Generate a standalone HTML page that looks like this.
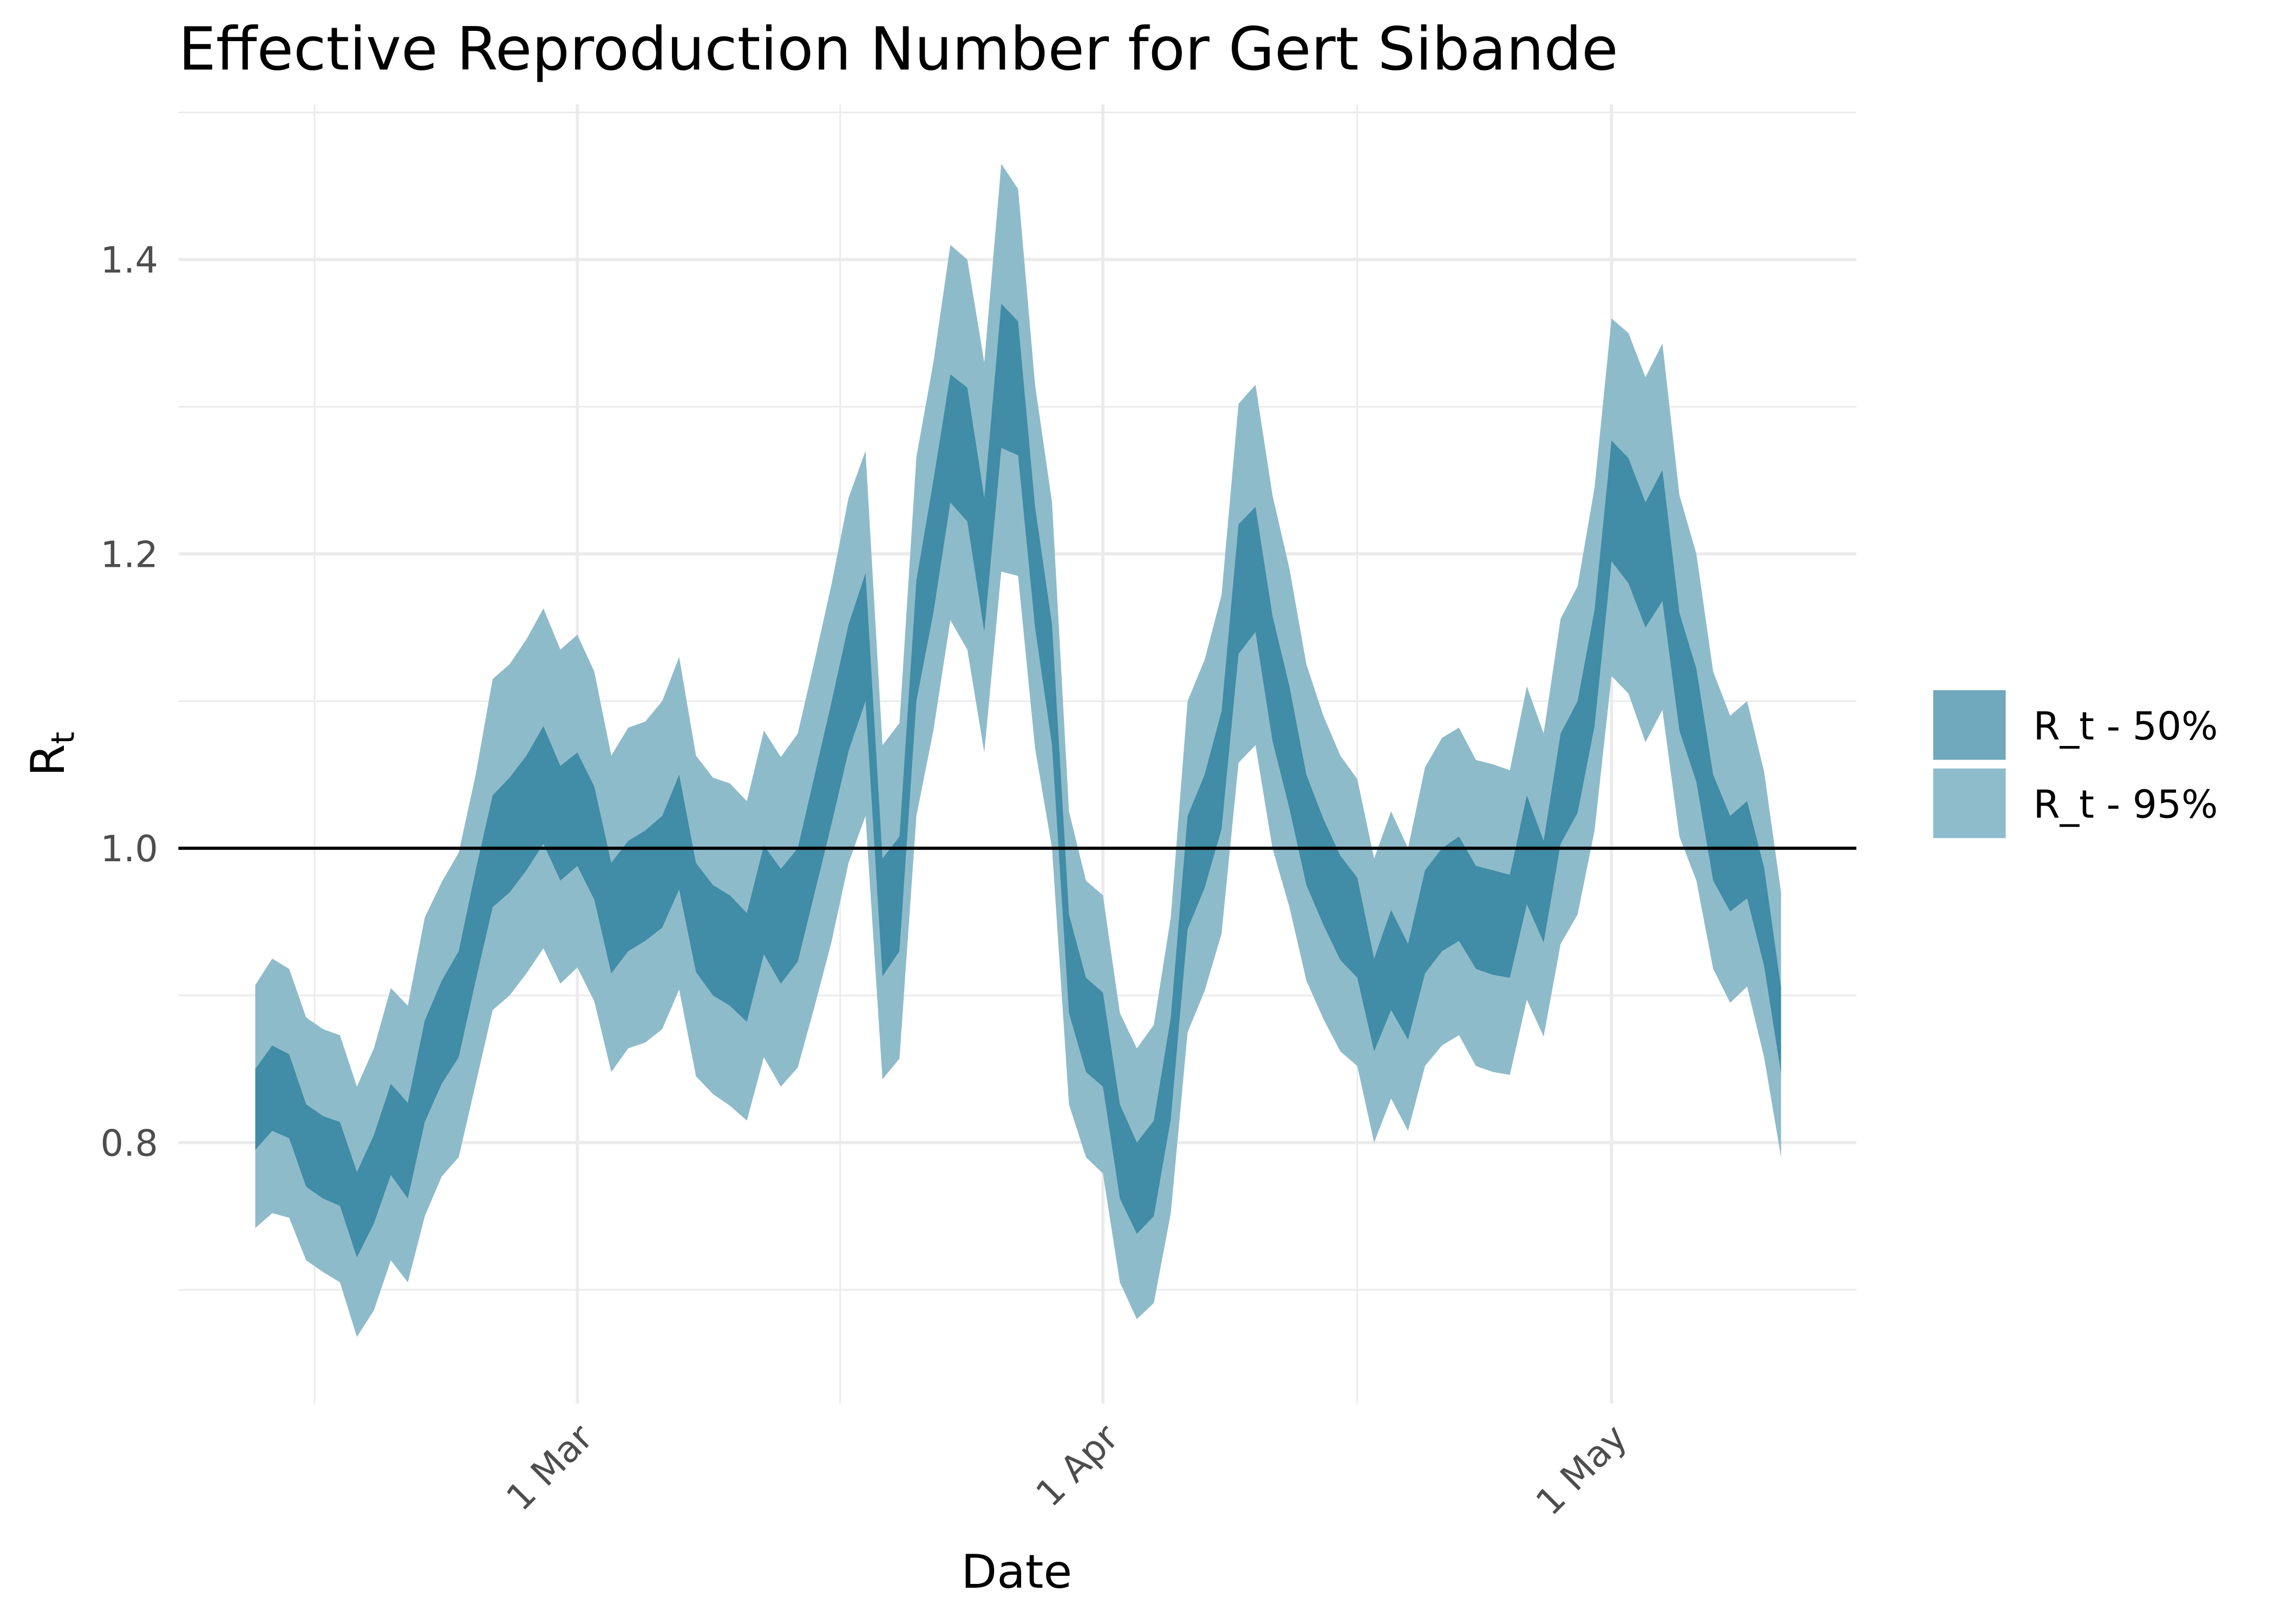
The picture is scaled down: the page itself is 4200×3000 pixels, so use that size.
<!DOCTYPE html>
<html><head><meta charset="utf-8"><style>
html,body{margin:0;padding:0;background:#fff;}
svg{display:block;font-family:"DejaVu Sans","Liberation Sans",sans-serif;}
</style></head><body>
<svg id="chart" width="4200" height="3000" viewBox="0 0 1568 1120" xmlns="http://www.w3.org/2000/svg">
<rect width="1568" height="1120" fill="#fff"/>
<g id="grid"></g>
<g id="bands"></g>
<line x1="123" x2="1280" y1="585" y2="585" stroke="#000" stroke-width="2.2"/>
<g id="yticks"></g>
<g id="xticks"></g>
<text x="123" y="48" font-size="41" fill="#000">Effective Reproduction Number for Gert Sibande</text>
<text x="701" y="1095" font-size="32" text-anchor="middle" fill="#000">Date</text>
<text transform="translate(44,520) rotate(-90)" font-size="32" text-anchor="middle" fill="#000">R<tspan font-size="22" dy="7">t</tspan></text>
<g>
<rect x="1333" y="476" width="50" height="48" fill="#70a8bd"/>
<rect x="1333" y="530" width="50" height="48" fill="#8fbccb"/>
<text x="1402" y="510" font-size="26.5" fill="#000">R_t - 50%</text>
<text x="1402" y="564" font-size="26.5" fill="#000">R_t - 95%</text>
</g>
</svg>
<script>
const upper95=[.907,.925,.918,.885,.877,.873,.838,.864,.905,.893,.953,.977,.997,1.05,1.115,1.125,1.142,1.163,1.135,1.145,1.12,1.063,1.082,1.086,1.1,1.13,1.063,1.048,1.044,1.032,1.08,1.062,1.078,1.128,1.18,1.238,1.27,1.07,1.085,1.266,1.33,1.41,1.4,1.33,1.465,1.448,1.315,1.235,1.025,.978,.968,.888,.864,.88,.953,1.1,1.128,1.172,1.302,1.315,1.24,1.19,1.125,1.09,1.063,1.047,.993,1.025,1.0,1.055,1.075,1.082,1.06,1.057,1.053,1.11,1.078,1.156,1.178,1.245,1.36,1.35,1.32,1.343,1.24,1.2,1.12,1.09,1.1,1.052,.97];
const upper50=[.85,.866,.86,.826,.818,.814,.78,.805,.84,.827,.883,.91,.93,.985,1.036,1.048,1.063,1.083,1.056,1.065,1.042,.99,1.005,1.012,1.022,1.05,.99,.975,.968,.956,1.002,.986,1.0,1.05,1.1,1.152,1.187,.993,1.008,1.182,1.25,1.322,1.313,1.238,1.37,1.358,1.232,1.152,.955,.912,.902,.826,.8,.815,.885,1.022,1.05,1.093,1.22,1.232,1.158,1.11,1.05,1.02,.995,.98,.925,.958,.935,.985,1.0,1.008,.988,.985,.982,1.036,1.005,1.078,1.1,1.162,1.277,1.265,1.235,1.257,1.16,1.122,1.05,1.022,1.032,.987,.905];
const lower50=[.795,.808,.803,.77,.762,.757,.722,.745,.778,.762,.814,.84,.858,.91,.96,.97,.985,1.003,.978,.988,.965,.915,.93,.937,.946,.972,.916,.9,.893,.882,.928,.908,.923,.97,1.017,1.066,1.1,.913,.93,1.1,1.16,1.235,1.222,1.147,1.272,1.267,1.15,1.07,.888,.848,.838,.762,.738,.75,.816,.945,.973,1.013,1.132,1.147,1.073,1.027,.975,.948,.924,.912,.862,.89,.87,.915,.93,.937,.918,.914,.912,.962,.936,1.003,1.024,1.083,1.195,1.18,1.15,1.168,1.08,1.045,.978,.957,.966,.92,.847];
const lower95=[.742,.752,.749,.72,.712,.705,.668,.686,.72,.705,.75,.777,.79,.84,.89,.9,.915,.932,.908,.919,.896,.848,.864,.868,.877,.904,.845,.833,.825,.815,.858,.838,.851,.893,.937,.99,1.022,.843,.857,1.022,1.08,1.155,1.135,1.065,1.188,1.185,1.068,1.0,.826,.79,.779,.705,.68,.691,.752,.875,.903,.942,1.058,1.07,1.0,.96,.91,.884,.862,.852,.8,.83,.808,.852,.866,.873,.852,.848,.846,.897,.872,.935,.955,1.012,1.117,1.105,1.072,1.094,1.008,.978,.918,.895,.906,.858,.79];
const yMajorTicks=[0.8,1.0,1.2,1.4];
const yTickLabels=["0.8","1.0","1.2","1.4"];
const yMinorTicks=[0.7,0.9,1.1,1.3,1.5];
const xMajorDays=[19,50,80];
const xTickLabels=["1 Mar","1 Apr","1 May"];
const xMinorDays=[3.5,34.5,65];

const NS="http://www.w3.org/2000/svg";
function xs(d){return 176+d*11.69;}
function ys(v){return 585-(v-1)*1015;}
function mk(tag,attrs,parent){const e=document.createElementNS(NS,tag);for(const k in attrs)e.setAttribute(k,attrs[k]);parent.appendChild(e);return e;}
const grid=document.getElementById('grid');
yMinorTicks.forEach(v=>{const l=mk('line',{x1:123,x2:1280,y1:ys(v),y2:ys(v),stroke:'#ebebeb','stroke-width':1.1},grid);

});
xMinorDays.forEach(d=>{const l=mk('line',{x1:xs(d),x2:xs(d),y1:72,y2:968,stroke:'#ebebeb','stroke-width':1.1},grid);

});
yMajorTicks.forEach(v=>{const l=mk('line',{x1:123,x2:1280,y1:ys(v),y2:ys(v),stroke:'#ebebeb','stroke-width':2.2},grid);

});
xMajorDays.forEach(d=>{const l=mk('line',{x1:xs(d),x2:xs(d),y1:72,y2:968,stroke:'#ebebeb','stroke-width':2.2},grid);

});
function band(up,lo,fill,name){
  let p=[];up.forEach((v,i)=>p.push(xs(i).toFixed(1)+','+ys(v).toFixed(1)));
  for(let i=lo.length-1;i>=0;i--)p.push(xs(i).toFixed(1)+','+ys(lo[i]).toFixed(1));
  const e=mk('polygon',{points:p.join(' '),fill:fill},document.getElementById('bands'));
  
  
}
band(upper95,lower95,'#8ebbca','band-95');
band(upper50,lower50,'#418ca6','band-50');
const yt=document.getElementById('yticks');
yMajorTicks.forEach((v,i)=>{const t=mk('text',{x:109,y:ys(v)+9,'font-size':25,'text-anchor':'end',fill:'#4d4d4d'},yt);t.textContent=yTickLabels[i];

});
const xt=document.getElementById('xticks');
xMajorDays.forEach((d,i)=>{const x=xs(d)+12,y=993;const t=mk('text',{x:x,y:y,'font-size':25,'text-anchor':'end',fill:'#4d4d4d',transform:`rotate(-45 ${x} ${y})`},xt);t.textContent=xTickLabels[i];

});
</script>
</body></html>
